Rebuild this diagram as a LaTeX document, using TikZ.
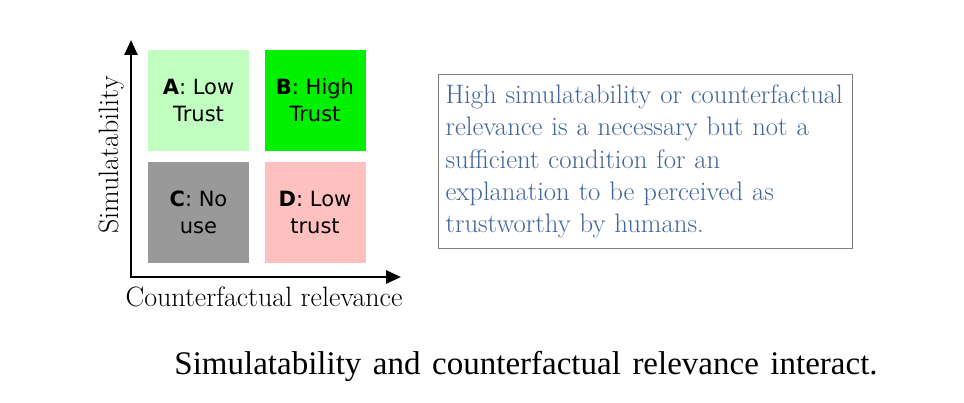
\documentclass[tikz,border=0pt]{standalone}
\usepackage{fontspec}
\usepackage{tikz}
\usetikzlibrary{arrows.meta,positioning}
\newfontfamily\quadfont{DejaVu Sans}
\newfontfamily\capfont[WordSpace={1.4}]{Liberation Serif}
\definecolor{quadA}{RGB}{192,255,192}
\definecolor{quadB}{RGB}{0,240,0}
\definecolor{quadC}{RGB}{153,153,153}
\definecolor{quadD}{RGB}{255,192,192}
\definecolor{notetext}{RGB}{66,100,152}
\tikzset{
  quad/.style={rectangle, minimum width=101pt, minimum height=101pt, inner sep=0pt,
    align=center, font=\quadfont\fontsize{21}{27}\selectfont},
  axis/.style={line width=2.6pt, -{Triangle[length=15pt,width=13pt]}},
  axislabel/.style={font=\fontsize{28}{30}\selectfont}
}
\begin{document}
\begin{tikzpicture}[x=1pt, y=1pt]
    \useasboundingbox (0,0) rectangle (964,-403);
    % Quadrants
    \node (qa) [quad, fill=quadA] at (198.5,-100.5) {\textbf{A}: Low\\Trust};
    \node (qb) [quad, fill=quadB] at (315,-100.5) {\textbf{B}: High\\Trust};
    \node (qc) [quad, fill=quadC] at (198.5,-212.5) {\textbf{C}: No\\use};
    \node (qd) [quad, fill=quadD] at (315,-212.5) {\textbf{D}: Low\\trust};

    % Axes
    \coordinate (origin) at (131,-277);
    \coordinate (ytip) at (131,-40);
    \coordinate (xtip) at (401,-277);
    \draw[axis] ([yshift=-1.3pt]origin) -- (ytip);
    \draw[axis] ([xshift=-1.3pt]origin) -- (xtip);
    \node (ylabel) [axislabel, rotate=90] at (112,-155) {Simulatability};
    \node (xlabel) [axislabel, anchor=base] at (264,-307) {Counterfactual relevance};

    % Note
    \node (note) [draw=gray, line width=1.2pt, anchor=north west, minimum width=414pt,
        minimum height=174pt, text width=400pt, inner xsep=7pt, align=left,
        text=notetext, font=\fontsize{26.7}{32.3}\selectfont] at (438,-74)
        {High simulatability or counterfactual\\relevance is a necessary but not a\\sufficient condition for an\\explanation to be perceived as\\trustworthy by humans.};

    % Caption
    \node (caption) [anchor=base, font=\capfont\fontsize{33}{36}\selectfont] at (526,-374)
        {Simulatability and counterfactual relevance interact.};
\end{tikzpicture}
\end{document}
